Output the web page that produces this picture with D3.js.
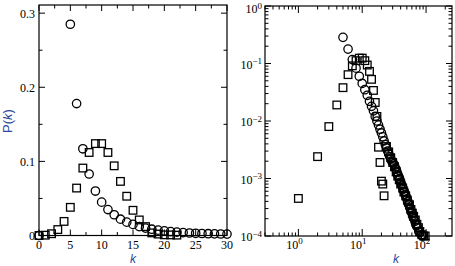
<!DOCTYPE html>
<html><head><meta charset="utf-8">
<script src="https://cdn.jsdelivr.net/npm/d3@7/dist/d3.min.js"></script>
<style>body{margin:0;background:#fff}svg{display:block}</style>
</head><body><svg id="c" width="455" height="266"></svg>
<script>
// ---- data ----
const circleK = [0,5,6,7,8,9,10,11,12,13,14,15,16,17,18,19,20,21,22,23,24,25,26,27,28,29,30];
const circleP = [0,0.285,0.178,0.117,0.083,0.060,0.045,0.035,0.028,0.022,0.018,0.015,0.012,0.010,0.0085,0.0072,0.0062,0.0053,0.0045,0.0039,0.0034,0.0030,0.0027,0.0024,0.0022,0.0020,0.0019];
const squareK = [0,1,2,3,4,5,6,7,8,9,10,11,12,13,14,15,16,17,18,19,20,21,22];
const squareP = [0,0.00045,0.0024,0.008,0.019,0.038,0.064,0.091,0.112,0.124,0.124,0.112,0.094,0.073,0.053,0.034,0.021,0.012,0.0035,0.0019,0.0009,0.0008,0.0005];
// extra tail points of the log-log panel
const tailCircleK = [31,32,33,34,35,36,37,38,39,40,41,42,43,44,45,46,47,48,49,50,52,53,54,56,57,58,60,62,63,65,67,69,71,74,77,80,84,88];
const tailCircleP = [0.0018,0.0017,0.0015,0.00145,0.0013,0.00115,0.0011,0.0010,0.00095,0.00087,0.0008,0.00076,0.0007,0.00066,0.0006,0.00058,0.00053,0.0005,0.00048,0.00044,0.0004,0.00036,0.00035,0.00031,0.0003,0.00027,0.00025,0.00023,0.00021,0.0002,0.00018,0.00016,0.00015,0.00014,0.00012,0.000115,0.000105,0.0001];
const tailSquareK = [24,26,28,30,32,34,36,38,40,43,45,48,51,55,58,61,64,68,72,76,80,86,92,97];
const tailSquareP = [0.0036,0.0029,0.0023,0.0019,0.0016,0.0013,0.0011,0.00095,0.0008,0.00068,0.00058,0.0005,0.00042,0.00035,0.00029,0.00025,0.00022,0.00019,0.00016,0.00014,0.00012,0.000105,0.0001,0.0001];
const linXTicks = [0,5,10,15,20,25,30];
const linYTicks = [0,0.1,0.2,0.3];
const logXTicks = [1,10,100];
const logYTicks = [1e-4,1e-3,1e-2,1e-1,1];

const svg = d3.select("#c");
const blue = "#2b4a9c";
const serif = "'Liberation Serif','Times New Roman',serif";

function drawBox(g, x0, x1, y0, y1){
  g.append("rect").attr("x",x0).attr("y",y0).attr("width",x1-x0).attr("height",y1-y0)
   .attr("fill","none").attr("stroke","#000").attr("stroke-width",1.2);
}
function markers(g, xs, ys, kind, x, y){
  const pts = d3.zip(xs, ys);
  if(kind==="c"){
    g.selectAll(null).data(pts).join("circle")
     .attr("cx",d=>x(d[0])).attr("cy",d=>y(d[1])).attr("r",4.2)
     .attr("fill","none").attr("stroke","#000").attr("stroke-width",1.3);
  } else {
    g.selectAll(null).data(pts).join("rect")
     .attr("x",d=>x(d[0])-3.8).attr("y",d=>y(d[1])-3.8).attr("width",7.6).attr("height",7.6)
     .attr("fill","none").attr("stroke","#000").attr("stroke-width",1.3);
  }
}
function tickLines(g, vals, pos, fixedA, fixedB, len, vertical){
  vals.forEach(v=>{
    const p = pos(v);
    if(vertical){ // ticks on bottom/top
      g.append("line").attr("x1",p).attr("x2",p).attr("y1",fixedA).attr("y2",fixedA-len).attr("stroke","#000").attr("stroke-width",1);
      g.append("line").attr("x1",p).attr("x2",p).attr("y1",fixedB).attr("y2",fixedB+len).attr("stroke","#000").attr("stroke-width",1);
    } else {
      g.append("line").attr("y1",p).attr("y2",p).attr("x1",fixedA).attr("x2",fixedA+len).attr("stroke","#000").attr("stroke-width",1);
      g.append("line").attr("y1",p).attr("y2",p).attr("x1",fixedB).attr("x2",fixedB-len).attr("stroke","#000").attr("stroke-width",1);
    }
  });
}

// ---- left panel (linear) ----
const L = svg.append("g");
const x1 = d3.scaleLinear().domain([0,30]).range([39,227]);
const y1 = d3.scaleLinear().domain([0,0.311]).range([235.5,5]);
const minorX1 = d3.range(0,30.01,2.5).filter(v=>v%5!==0);
const minorY1 = [0.05,0.15,0.25];
tickLines(L, linXTicks, x1, 235.5, 5, 6, true);
tickLines(L, minorX1, x1, 235.5, 5, 3.5, true);
tickLines(L, linYTicks, y1, 39, 227, 6, false);
tickLines(L, minorY1, y1, 39, 227, 3.5, false);
markers(L, squareK, squareP, "s", x1, y1);
markers(L, circleK, circleP, "c", x1, y1);
drawBox(L, 39, 227, 5, 235.5);
L.selectAll(null).data(linXTicks).join("text").attr("x",d=>x1(d)).attr("y",249)
 .attr("text-anchor","middle").attr("font-family",serif).attr("font-size",12).text(d=>d);
L.selectAll(null).data(linYTicks).join("text").attr("x",35).attr("y",d=>y1(d)+4.5)
 .attr("text-anchor","end").attr("font-family",serif).attr("font-size",12).text(d=>d===0?"0":d3.format(".1f")(d));
L.append("text").attr("x",133).attr("y",263).attr("text-anchor","middle")
 .attr("font-family","'Liberation Sans',Arial,sans-serif").attr("font-style","italic").attr("font-size",12).attr("fill",blue).text("k");
const yl = L.append("text").attr("transform","translate(12,121) rotate(-90)").attr("text-anchor","middle")
 .attr("font-family","'Liberation Sans',Arial,sans-serif").attr("font-size",13).attr("fill",blue);
yl.append("tspan").text("P(");
yl.append("tspan").attr("font-style","italic").text("k");
yl.append("tspan").text(")");

// ---- right panel (log-log) ----
const R = svg.append("g");
const x2 = d3.scaleLog().domain([0.3,255]).range([265,452]);
const y2 = d3.scaleLog().domain([1e-4,1]).range([236,6]);
const minorX2 = [];
[0.1,1,10,100].forEach(dec=>{for(let m=2;m<=9;m++){const v=m*dec; if(v>=0.3&&v<=255) minorX2.push(v);}});
const minorY2 = [];
[1e-4,1e-3,1e-2,1e-1].forEach(dec=>{for(let m=2;m<=9;m++) minorY2.push(m*dec);});
tickLines(R, logXTicks, x2, 236, 6, 7, true);
tickLines(R, minorX2, x2, 236, 6, 3.5, true);
tickLines(R, logYTicks, y2, 265, 452, 6, false);
tickLines(R, minorY2, y2, 265, 452, 3.5, false);
markers(R, squareK.filter((k,i)=>squareP[i]>0), squareP.filter(p=>p>0), "s", x2, y2);
markers(R, tailSquareK, tailSquareP, "s", x2, y2);
markers(R, circleK.filter((k,i)=>circleP[i]>0), circleP.filter(p=>p>0), "c", x2, y2);
markers(R, tailCircleK, tailCircleP, "c", x2, y2);
drawBox(R, 265, 452, 6, 236);
logXTicks.forEach(v=>{
  const t = R.append("text").attr("x",x2(v)-4).attr("y",249).attr("text-anchor","middle")
   .attr("font-family",serif).attr("font-size",12);
  t.append("tspan").text("10");
  t.append("tspan").attr("dy",-5).attr("font-size",9).text(Math.round(Math.log10(v)));
});
logYTicks.forEach(v=>{
  const e = Math.round(Math.log10(v));
  const t = R.append("text").attr("x",262).attr("y",Math.max(y2(v)+5,13)).attr("text-anchor","end")
   .attr("font-family",serif).attr("font-size",12);
  t.append("tspan").text("10");
  t.append("tspan").attr("dy",-4.5).attr("font-size",9).text(e===0?"0":"\u2212"+(-e));
});
R.append("text").attr("x",396).attr("y",263).attr("text-anchor","middle")
 .attr("font-family","'Liberation Sans',Arial,sans-serif").attr("font-style","italic").attr("font-size",12).attr("fill",blue).text("k");
</script></body></html>
